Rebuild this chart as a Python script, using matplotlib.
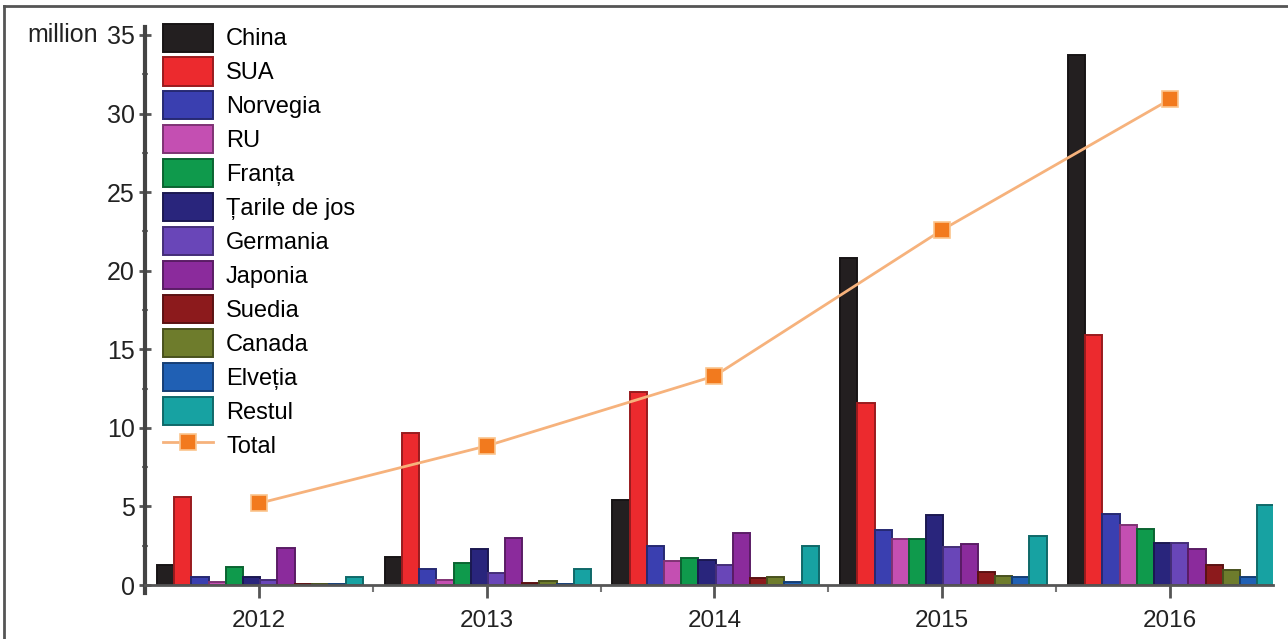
import matplotlib
matplotlib.use("Agg")
import matplotlib.pyplot as plt
import matplotlib.colors as mcolors
from matplotlib.ticker import MultipleLocator
import numpy as np

plt.rcParams['font.family'] = ['Liberation Sans', 'DejaVu Sans']

years = ['2012', '2013', '2014', '2015', '2016']
tari = ['China', 'SUA', 'Norvegia', 'RU', 'Franța', 'Țarile de jos',
        'Germania', 'Japonia', 'Suedia', 'Canada', 'Elveția', 'Restul']
culori = ['#231f20', '#ec2a2e', '#3a3fb0', '#c44fb2', '#0f9a4c', '#29257c',
          '#6946b8', '#8b2b9c', '#8c1a1c', '#6e7c2c', '#2060b4', '#17a2a2']

# valori (milioane)
china    = [1.3, 1.8, 5.4, 20.8, 33.7]
sua      = [5.6, 9.7, 12.3, 11.6, 15.9]
norvegia = [0.5, 1.0, 2.5, 3.5, 4.5]
ru       = [0.2, 0.3, 1.5, 2.9, 3.8]
franta   = [1.15, 1.4, 1.75, 2.9, 3.55]
olanda   = [0.5, 2.3, 1.6, 4.45, 2.7]
germania = [0.3, 0.75, 1.25, 2.4, 2.65]
japonia  = [2.35, 3.0, 3.3, 2.6, 2.3]
suedia   = [0.05, 0.1, 0.45, 0.8, 1.3]
canada   = [0.05, 0.25, 0.5, 0.6, 0.95]
elvetia  = [0.05, 0.05, 0.2, 0.5, 0.5]
restul   = [0.5, 1.0, 2.5, 3.1, 5.1]
total    = [5.2, 8.85, 13.3, 22.6, 30.9]

serii = [china, sua, norvegia, ru, franta, olanda, germania, japonia,
         suedia, canada, elvetia, restul]

fig = plt.figure(figsize=(12.88, 6.39), dpi=100)
ax = fig.add_axes([0.1126, 0.0722, 0.8754, 0.8854])

x = np.arange(len(years))
w = 0.0755
for i, (nume, val, c) in enumerate(zip(tari, serii, culori)):
    rgb = np.array(mcolors.to_rgb(c))
    ax.bar(x - 0.41 + i * w, val, width=w, color=c,
           edgecolor=rgb * 0.65, linewidth=1.4, label=nume, zorder=2)

ax.plot(x, total, color='#f6b27c', linewidth=2, marker='s', markersize=11,
        markerfacecolor='#f27a1e', markeredgecolor='#fbc58e',
        markeredgewidth=1.2, label='Total', zorder=3)

ax.set_xlim(-0.5, 4.45)
ax.set_ylim(-0.5, 35.5)
ax.spines['top'].set_visible(False)
ax.spines['right'].set_visible(False)
ax.spines['bottom'].set_position(('data', 0))
ax.spines['left'].set_linewidth(3)
ax.spines['left'].set_color('#444444')
ax.spines['bottom'].set_linewidth(2)
ax.spines['bottom'].set_color('#555555')

ax.set_yticks(np.arange(0, 36, 5))
ax.yaxis.set_minor_locator(MultipleLocator(2.5))
ax.tick_params(axis='y', which='major', direction='inout', length=9,
               width=2, color='#555555', labelsize=18, labelcolor='#222222', pad=3)
ax.tick_params(axis='y', which='minor', direction='inout', length=5,
               width=1.5, color='#777777')

ax.set_xticks(x)
ax.set_xticklabels(years)
ax.set_xticks(x[:-1] + 0.5, minor=True)
ax.tick_params(axis='x', which='major', direction='out', length=9, width=2,
               color='#555555', labelsize=17.5, labelcolor='#222222', pad=9)
ax.tick_params(axis='x', which='minor', direction='out', length=5, width=1.5,
               color='#777777')

ax.annotate('million', xy=(0, 35), xycoords=('axes fraction', 'data'),
            xytext=(-34, 0), textcoords='offset points',
            ha='right', va='center', fontsize=18, color='#222222')

handles, labels = ax.get_legend_handles_labels()
handles = handles[1:] + handles[:1]
labels = labels[1:] + labels[:1]
leg = ax.legend(handles, labels, loc='upper left', bbox_to_anchor=(0.008, 1.023),
                frameon=False, fontsize=17, handlelength=2.1, handleheight=1.45,
                labelspacing=0.25, handletextpad=0.55, borderaxespad=0)

# chenar figura
fig.add_artist(plt.Line2D([0.003, 1.0], [0.99, 0.99], color='#555555', lw=2,
                          transform=fig.transFigure))
fig.add_artist(plt.Line2D([0.003, 0.003], [0.0, 0.99], color='#555555', lw=2,
                          transform=fig.transFigure))

fig.savefig('out.png', dpi=100)
